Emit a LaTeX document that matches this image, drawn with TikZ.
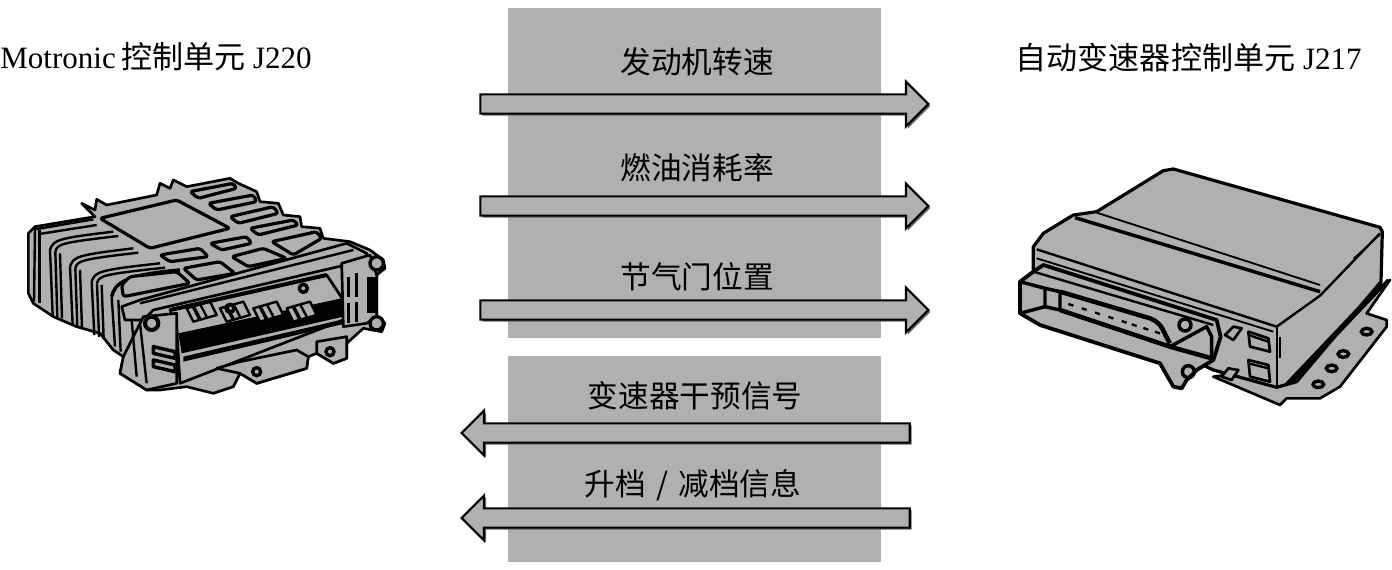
\documentclass[tikz,border=0pt]{standalone}
\usepackage{fontspec}
\setmainfont{Liberation Serif}
\newfontfamily\cjk{Noto Sans CJK SC}
\usetikzlibrary{shapes.arrows,shadows}
\definecolor{panelgray}{HTML}{B0B0B0}
\tikzset{
    sigarrow/.style = {single arrow, draw = black, line width = 1.6pt, fill = panelgray, inner xsep = 0pt, inner ysep = 6.4pt,
        minimum height = 336pt, minimum width = 33.5pt, single arrow head extend = 9.5pt,
        copy shadow = {shadow xshift = 1.5pt, shadow yshift = -1.5pt, fill = black!60, draw = none}},
    siglabel/.style = {font = \fontsize{23}{23}\selectfont\cjk, inner sep = 0pt},
    unitlabel/.style = {font = \fontsize{23.3}{23}\selectfont, inner sep = 0pt},
    body/.style = {draw = black, fill = panelgray, line width = 2pt, line join = round},
    pad/.style = {body, line width = 2.4pt, rounded corners = 2pt},
    edge/.style = {draw = black, line width = 1.8pt, line join = round},
    heavyedge/.style = {draw = black, line width = 2.6pt, line join = round},
    thinedge/.style = {draw = black, line width = 0.8pt, line join = round}
}
\begin{document}
\begin{tikzpicture}[x = 0.75pt, y = -0.75pt]
    \useasboundingbox (0,0) rectangle (1392,570);

    \fill [panelgray] (508,8) rectangle (881,338);
    \fill [panelgray] (508,356) rectangle (881,562);

    \node (speed) at (697,62) [siglabel] {发动机转速};
    \node (fuel) at (697,168) [siglabel] {燃油消耗率};
    \node (throttle) at (697,277) [siglabel] {节气门位置};
    \node (shift) at (695,396) [siglabel] {变速器干预信号};
    \node (updown) at (693,485) [siglabel] {升档\,\,/\,\,减档信息};

    \node (speedarrow) at (699.5,104) [sigarrow] {};
    \node (fuelarrow) at (699.5,206) [sigarrow] {};
    \node (throttlearrow) at (699.5,310) [sigarrow] {};
    \node (shiftarrow) at (690.5,433) [sigarrow, shape border rotate = 180] {};
    \node (updownarrow) at (690.5,518) [sigarrow, shape border rotate = 180] {};

    \node (j220) at (0,57) [unitlabel, anchor = west] {Motronic\,{\cjk 控制单元} J220};
    \node (j217) at (1362,58) [unitlabel, anchor = east] {{\cjk 自动变速器控制单元} J217};

    % J220, traced in zoomed pixels
    \begin{scope}[shift = {(0,160)}, x = 0.25pt, y = -0.25pt]
        \draw [body] (85,220) -- (105,200) -- (285,170) -- (245,130) -- (285,150) -- (290,118) -- (320,135) -- (470,105)
            -- (480,70) -- (510,85) -- (520,60) -- (560,80) -- (690,55) -- (715,70) -- (770,95) -- (780,125) -- (835,130)
            -- (850,165) -- (900,170) -- (905,200) -- (960,205) -- (970,235) -- (1050,245) -- (1110,270) -- (1150,300)
            -- (1155,325) -- (1130,345) -- (1130,470) -- (1155,490) -- (1145,515) -- (1090,505) -- (1040,550) -- (1040,595)
            -- (1000,610) -- (950,580) -- (925,590) -- (920,625) -- (770,670) -- (720,640) -- (700,680) -- (640,700)
            -- (560,680) -- (480,690) -- (440,690) -- (360,640) -- (370,590) -- (340,570) -- (300,520) -- (230,500)
            -- (160,470) -- (100,430) -- (85,400) -- cycle;

        % cooling ribs on the left
        \draw [edge] (105,205) -- (102,425);
        \draw [edge] (118,210) -- (118,430);
        \draw [edge] (105,208) -- (280,178);
        \draw [edge] (118,222) -- (290,195);
        \foreach \rx/\ry/\rw/\rb in {150/270/190/465, 210/320/190/495, 275/365/205/525} {
            \draw [edge] (\rx,\ry) .. controls (\rx+10,\ry-30) and (\rx+20,\ry-35) .. (\rx+\rw,\ry-55);
            \draw [edge] (\rx+16,\ry+5) .. controls (\rx+22,\ry-18) and (\rx+32,\ry-22) .. (\rx+\rw+15,\ry-42);
            \draw [edge] (\rx,\ry) -- (\rx+8,\rb);
            \draw [edge] (\rx+16,\ry+5) -- (\rx+22,\rb+6);
            \draw [edge] (\rx+30,\ry+10) -- (\rx+36,\rb+10);
        }
        \draw [heavyedge] (335,410) .. controls (345,370) and (370,345) .. (540,330);
        \draw [edge] (335,410) -- (345,560);
        \draw [edge] (355,420) -- (362,575);

        % pads on the top
        \draw [pad] (300,175) -- (530,120) -- (690,205) -- (450,265) -- cycle;
        \draw [pad] (370,410) -- (365,375) -- (390,350) -- (530,335) -- (570,370) -- cycle;
        \draw [pad] (550,325) -- (660,305) -- (705,340) -- (590,360) -- cycle;
        \draw [pad] (695,290) -- (790,265) -- (860,295) -- (745,320) -- cycle;
        \draw [pad] (480,285) -- (600,265) -- (625,290) -- (510,305) -- cycle;
        \draw [pad] (630,250) -- (740,230) -- (755,250) -- (665,270) -- cycle;
        \draw [pad] (815,245) -- (950,215) -- (965,235) -- (880,285) -- cycle;
        \draw [pad] (750,205) -- (880,180) -- (895,195) -- (775,225) -- cycle;
        \draw [pad] (690,170) -- (820,140) -- (835,160) -- (715,190) -- cycle;
        \draw [pad] (625,130) -- (760,105) -- (770,125) -- (650,150) -- cycle;
        \draw [pad] (570,95) -- (700,70) -- (710,85) -- (595,115) -- cycle;

        % rail, connector and slot
        \draw [body] (365,440) -- (420,420) -- (1040,250) -- (1100,280) -- (1100,300) -- (460,450) -- (430,480) -- (375,480) -- cycle;
        \draw [edge] (420,430) -- (1060,270);
        \draw [body] (530,500) -- (510,450) -- (980,345) -- (1030,420) -- (1030,480) -- (540,670) -- cycle;
        \fill [black] (535,520) -- (1025,415) -- (1030,470) -- (545,580) -- cycle;
        \fill [black] (550,590) -- (1030,478) -- (1030,492) -- (550,605) -- cycle;
        \foreach \cx in {560,660,760,860} {
            \draw [edge, fill = panelgray] (\cx,445) -- (\cx+70,425) -- (\cx+90,465) -- (\cx+20,485) -- cycle;
            \draw [heavyedge] (\cx+20,440) -- (\cx+40,478);
            \draw [edge] (\cx+40,432) -- (\cx+60,470);
        }
        \foreach \cx/\cy in {690/445, 910/385} \draw [heavyedge] (\cx,\cy) circle (12);
        \draw [line width = 3pt] (510,450) -- (980,345);

        % side bracket, left end and tabs
        \draw [body] (1025,310) -- (1110,285) -- (1130,345) -- (1130,470) -- (1100,490) -- (1030,500) -- cycle;
        \fill [black] (1100,350) rectangle (1130,460);
        \draw [edge] (1045,350) -- (1045,410);
        \draw [edge] (1070,340) -- (1070,410);
        \draw [edge] (1045,430) -- (1045,490);
        \draw [edge] (1070,425) -- (1070,485);
        \draw [body] (430,470) -- (530,460) -- (530,670) -- (440,690) -- (360,640) -- (370,590) -- cycle;
        \draw [edge] (395,480) -- (410,650);
        \draw [edge] (420,490) -- (440,670);
        \foreach \cy in {560,600} \draw [heavyedge] (460,\cy) -- (525,\cy+15) -- (525,\cy+35) -- (460,\cy+20) -- cycle;
        \draw [body] (650,625) -- (720,605) -- (890,570) -- (925,590) -- (920,625) -- (770,670) -- (720,640) -- cycle;
        \draw [body] (950,545) -- (1040,530) -- (1040,595) -- (1000,610) -- (950,580) -- cycle;
        \draw [line width = 2.5pt] (770,635) circle (12);
        \draw [line width = 2.5pt] (990,575) circle (12);
        \draw [body, line width = 2.5pt] (1130,310) circle (20);
        \draw [body, line width = 2.5pt] (1130,490) circle (20);
        \draw [body, line width = 3pt] (455,490) circle (20);
    \end{scope}

    % J217, traced in zoomed pixels
    \begin{scope}[shift = {(1000,150)}, x = 0.25pt, y = -0.25pt]
        \draw [body] (1170,390) -- (1100,490) -- (1160,510) -- (1160,530) -- (1020,710) -- (960,745) -- (860,745)
            -- (840,765) -- (640,680) -- (800,660) -- cycle;
        \foreach \cx/\cy in {1100/545, 1030/612, 995/655, 955/703}
            \draw [line width = 2.5pt] (\cx,\cy) ellipse (16 and 10);
        \draw [body, line width = 2.4pt] (100,290) -- (130,250) -- (220,195) -- (290,185) -- (490,62) -- (520,57)
            -- (1140,232) -- (1147,245) -- (1143,395) -- (890,695) -- (830,712) -- (640,660) -- (100,400) -- cycle;
        \draw [edge] (110,298) -- (830,530) -- (960,437) -- (1140,250);
        \draw [heavyedge] (225,203) -- (960,425);
        \draw [edge, line width = 1.4pt] (290,188) -- (960,405);
        \draw [edge, line width = 1.4pt] (830,530) -- (830,712);
        \draw [thinedge] (840,560) -- (840,625);
        \draw [thinedge] (1060,325) -- (1140,255);
        \draw [edge, line width = 1.4pt] (110,325) -- (820,545);
        \draw [heavyedge] (870,700) -- (1165,390);
        \draw [edge] (855,705) -- (1145,400);

        % connector
        \draw [body, line width = 2.8pt] (60,395) -- (100,365) -- (130,345) -- (650,510) -- (662,560) -- (640,630)
            -- (590,660) -- (560,690) -- (545,715) -- (520,710) -- (480,640) -- (120,525) -- (60,490) -- cycle;
        \draw [edge] (100,365) -- (640,525);
        \draw [heavyedge] (60,395) -- (135,415) -- (135,470) -- (60,490);
        \draw [heavyedge] (135,470) -- (180,480) -- (180,425) -- (135,415);
        \draw [line width = 3.4pt] (180,480) -- (510,590) -- (635,625);
        \draw [line width = 3.4pt] (180,425) -- (450,505) .. controls (490,520) and (490,550) .. (510,580);
        \foreach \cx in {205,245,285,325,365,395,430,465}
            \draw [edge] (\cx,{462+(\cx-205)*0.32}) -- (\cx+15,{467+(\cx-205)*0.32});
        \draw [heavyedge] (510,590) -- (620,530) -- (635,560) -- (635,625);
        \draw [heavyedge] (555,525) circle (18);
        \draw [heavyedge] (565,665) circle (18);

        % indicators and clips
        \draw [body] (745,545) -- (805,565) -- (810,605) -- (750,590) -- cycle;
        \draw [body] (745,630) -- (805,645) -- (810,695) -- (750,680) -- cycle;
        \draw [edge] (745,555) -- (805,575);
        \draw [edge] (745,640) -- (805,655);
        \draw [body] (675,555) -- (700,530) -- (725,535) -- (700,570) -- cycle;
        \draw [body] (665,680) -- (685,655) -- (715,660) -- (695,690) -- cycle;
    \end{scope}
\end{tikzpicture}
\end{document}
